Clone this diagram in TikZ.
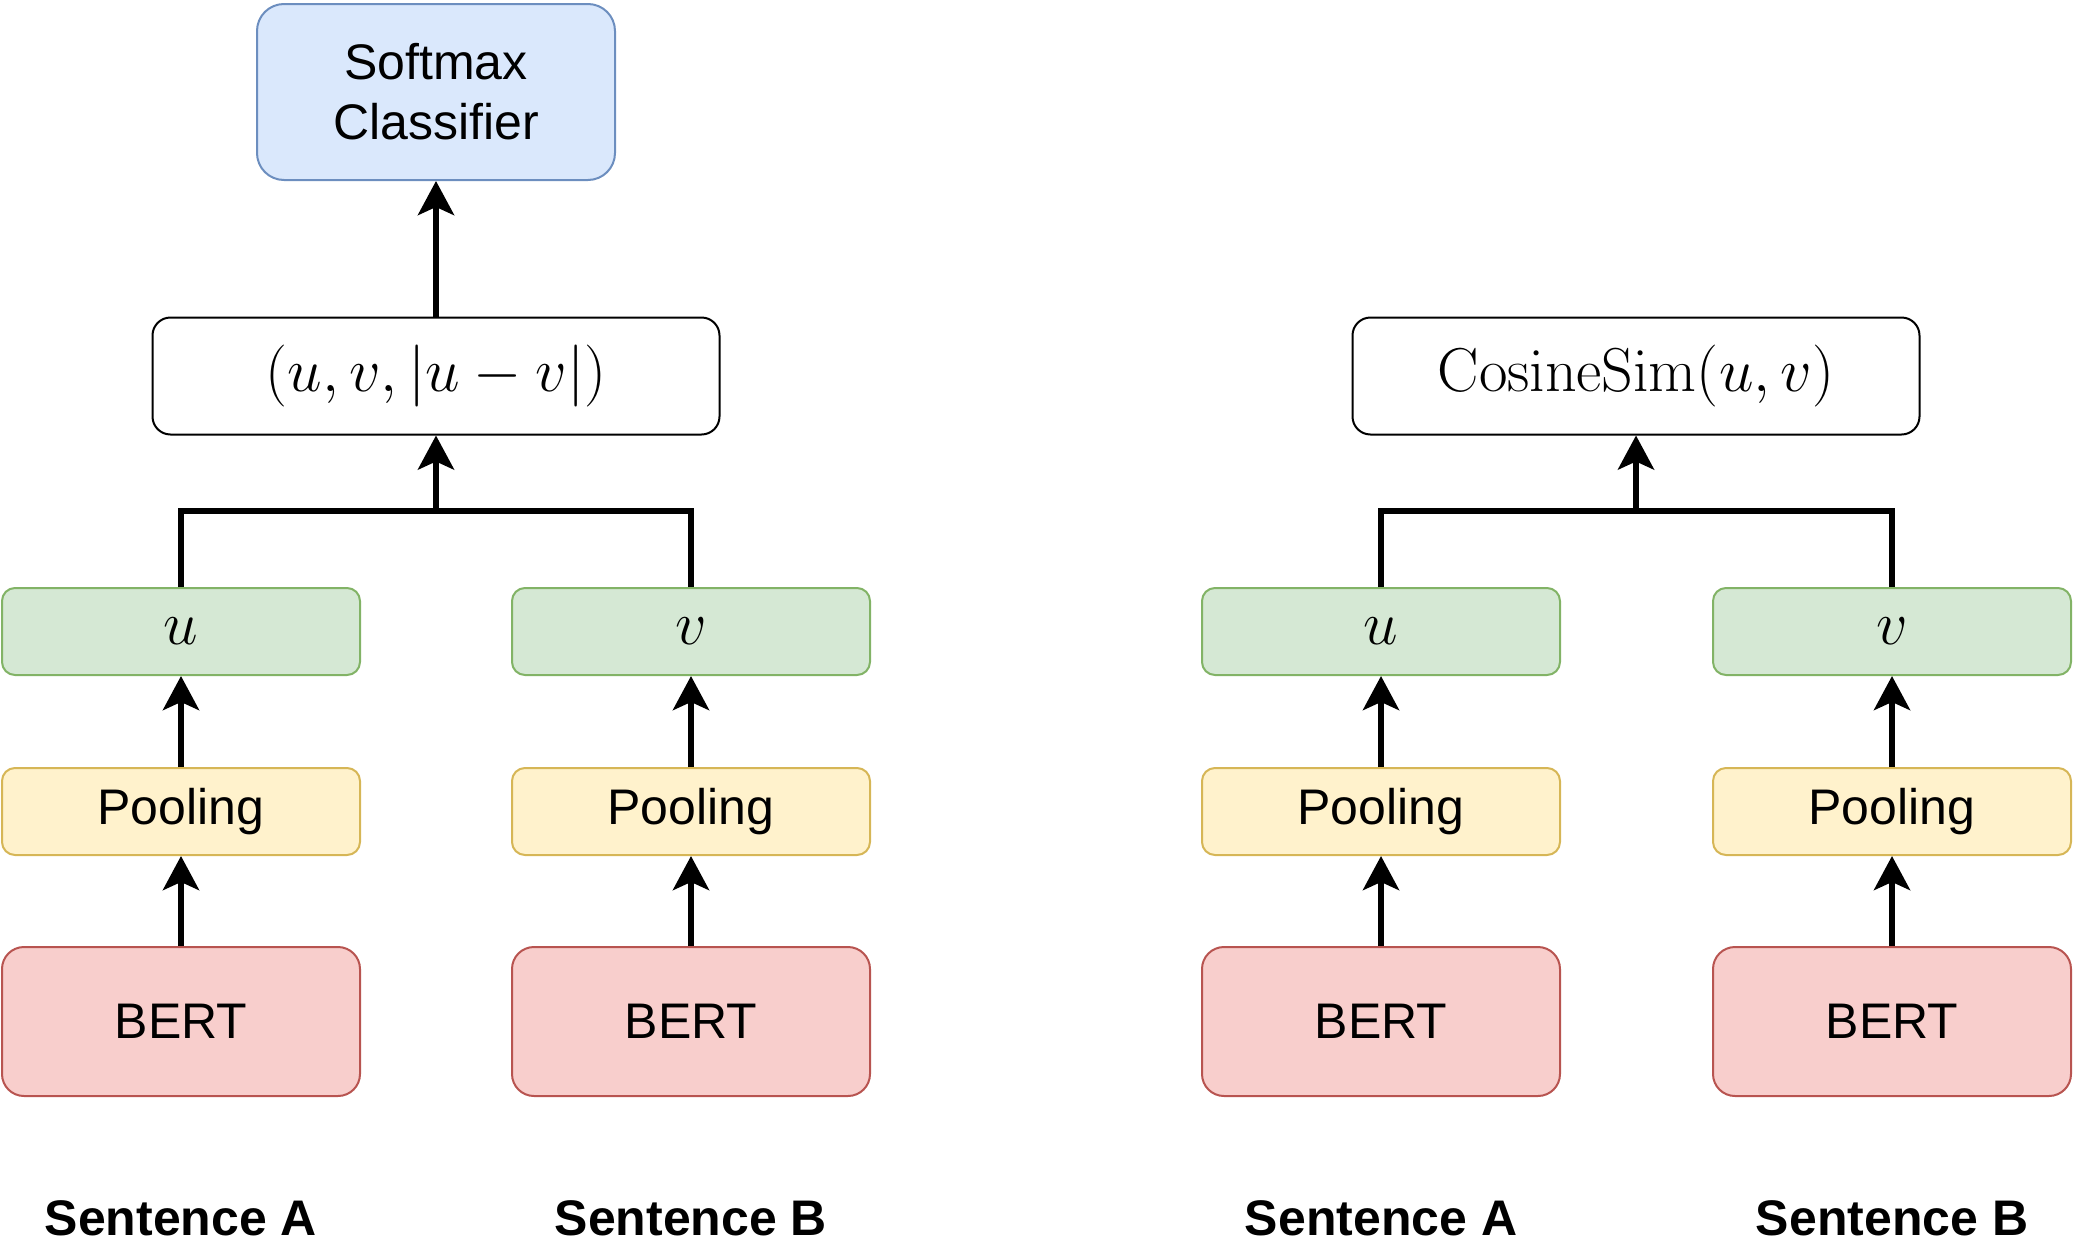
\RequirePackage{fix-cm}
\documentclass[tikz,border=0pt]{standalone}
\usepackage{amsmath}
\usepackage[no-math]{fontspec}
\setmainfont{Liberation Sans}
\usetikzlibrary{arrows.meta}

\definecolor{embfill}{HTML}{D5E8D4}
\definecolor{embline}{HTML}{82B366}
\definecolor{poolfill}{HTML}{FFF2CC}
\definecolor{poolline}{HTML}{D6B656}
\definecolor{bertfill}{HTML}{F8CECC}
\definecolor{bertline}{HTML}{B85450}
\definecolor{clsfill}{HTML}{DAE8FC}
\definecolor{clsline}{HTML}{6C8EBF}

\begin{document}
\begin{tikzpicture}[x=0.5pt, y=-0.5pt,
    box/.style={draw, line width=1pt, inner sep=0pt, align=center,
        font=\fontsize{25}{30}\selectfont},
    embbox/.style={box, fill=embfill, draw=embline, rounded corners=6.5pt,
        minimum width=179pt, minimum height=43.5pt},
    poolbox/.style={box, fill=poolfill, draw=poolline, rounded corners=6.5pt,
        minimum width=179pt, minimum height=43.5pt},
    bertbox/.style={box, fill=bertfill, draw=bertline, rounded corners=11pt,
        minimum width=179pt, minimum height=74.5pt},
    mathbox/.style={box, fill=white, draw=black, rounded corners=9pt,
        minimum width=283.5pt, minimum height=58.5pt},
    clsbox/.style={box, fill=clsfill, draw=clsline, rounded corners=13.5pt,
        minimum width=179pt, minimum height=88pt},
    link/.style={line width=3pt},
    arr/.style={link, -{Stealth[length=17pt, width=18pt, inset=4pt]}},
    sent/.style={font=\fontsize{25}{30}\selectfont\bfseries, anchor=base, inner sep=0pt}
]
    \useasboundingbox (0,0) rectangle (2073,1248);

    % four towers: BERT -> Pooling -> embedding
    \foreach \col/\x/\vec/\sen in {l1/181/u/A, l2/691/v/B, r1/1381/u/A, r2/1892/v/B} {
        \node [bertbox] (bert-\col) at (\x,1021.5) {BERT};
        \node [poolbox] (pool-\col) at (\x,811.5) {Pooling};
        \node [embbox, font=\fontsize{31}{37}\selectfont] (emb-\col) at (\x,631.5) {$\vec$};
        \node [sent] (sen-\col) at (\x,1235) {Sentence \sen};
        \draw [arr] (bert-\col) -- (pool-\col);
        \draw [arr] (pool-\col) -- (emb-\col);
    }

    % classification objective
    \node [mathbox, font=\fontsize{31}{37}\selectfont] (concat) at (436,376) {$(u, v, |u - v|)$};
    \node [clsbox] (softmax) at (436,92) {Softmax\\Classifier};
    \coordinate (joinL) at (436,511);
    \draw [link] (emb-l1) |- (joinL) -| (emb-l2);
    \draw [arr] (joinL) -- (concat);
    \draw [arr] (concat) -- (softmax);

    % regression objective
    \node [mathbox, font=\fontsize{31}{37}\selectfont] (cosine) at (1636,376) {$\mathrm{CosineSim}(u, v)$};
    \coordinate (joinR) at (1636,511);
    \draw [link] (emb-r1) |- (joinR) -| (emb-r2);
    \draw [arr] (joinR) -- (cosine);
\end{tikzpicture}
\end{document}
